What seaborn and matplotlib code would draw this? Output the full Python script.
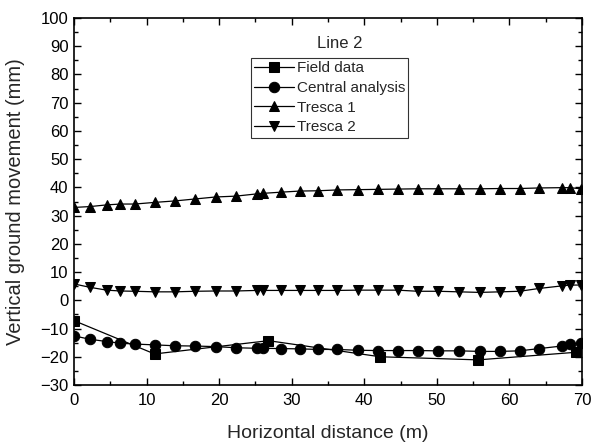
import matplotlib
matplotlib.use("Agg")
import matplotlib.pyplot as plt
from matplotlib.ticker import MultipleLocator
import seaborn as sns
import pandas as pd

# ---- data ----
field_x = [0, 11.1, 26.8, 42.2, 55.7, 69.2]
field_y = [-7.2, -19.0, -14.3, -20.0, -21.1, -18.4]

model_x = [0, 2.2, 4.5, 6.4, 8.4, 11.2, 13.9, 16.7, 19.5, 22.3, 25.2, 26.1, 28.5,
           31.1, 33.6, 36.3, 39.1, 41.9, 44.6, 47.4, 50.2, 53.1, 55.9, 58.7, 61.4,
           64.1, 67.2, 68.4, 69.8]
central_y = [-12.6, -13.8, -14.6, -15.2, -15.5, -15.8, -16.1, -16.2, -16.4, -16.8,
             -17.0, -17.0, -17.1, -17.2, -17.4, -17.4, -17.7, -17.8, -17.8, -17.8,
             -17.9, -17.9, -18.1, -18.1, -17.9, -17.1, -16.2, -15.5, -15.2]
tresca1_y = [32.9, 33.2, 33.8, 34.1, 34.1, 34.7, 35.2, 35.9, 36.6, 36.9, 37.7, 37.9,
             38.3, 38.7, 38.8, 39.1, 39.2, 39.3, 39.4, 39.5, 39.5, 39.5, 39.5, 39.6,
             39.6, 39.8, 39.9, 39.9, 39.5]
tresca2_y = [5.8, 4.6, 3.6, 3.3, 3.2, 3.0, 3.0, 3.2, 3.3, 3.3, 3.5, 3.5, 3.5, 3.5,
             3.5, 3.5, 3.6, 3.6, 3.6, 3.2, 3.2, 3.0, 2.8, 3.0, 3.2, 4.2, 5.1, 5.4, 5.4]

series_names = ["Field data", "Central analysis", "Tresca 1", "Tresca 2"]
x_ticks = [0, 10, 20, 30, 40, 50, 60, 70]
y_ticks = [-30, -20, -10, 0, 10, 20, 30, 40, 50, 60, 70, 80, 90, 100]

sns.set_style("ticks")
plt.rcParams["font.family"] = ["Liberation Sans", "DejaVu Sans"]

fig = plt.figure(figsize=(5.99, 4.45), dpi=100)
ax = fig.add_axes([74/599, 1-385/445, (582-74)/599, (385-18)/445])

sets = [
    (field_x, field_y, "s"),
    (model_x, central_y, "o"),
    (model_x, tresca1_y, "^"),
    (model_x, tresca2_y, "v"),
]
for (xs, ys, m), name in zip(sets, series_names):
    df = pd.DataFrame({"x": xs, "y": ys})
    sns.lineplot(data=df, x="x", y="y", marker=m, color="black", markersize=7.5,
                 markeredgecolor="black", linewidth=0.9, label=name, ax=ax,
                 sort=False, estimator=None)

ax.set_xlim(0, 70)
ax.set_ylim(-30, 100)
ax.set_xticks(x_ticks)
ax.set_yticks(y_ticks)
ax.xaxis.set_minor_locator(MultipleLocator(5))
ax.yaxis.set_minor_locator(MultipleLocator(5))
ax.tick_params(which="both", direction="in", top=True, right=True, color="black",
               width=1)
ax.tick_params(which="major", length=5, labelsize=12, labelcolor="black")
ax.tick_params(axis="x", which="major", pad=6)
ax.tick_params(axis="y", which="major", pad=4)
ax.tick_params(which="minor", length=3)
ax.tick_params(axis="x", labeltop=False)
ax.tick_params(axis="y", labelright=False)
for s in ax.spines.values():
    s.set_color("black")
    s.set_linewidth(1.2)

ax.set_xlabel("Horizontal distance (m)", fontsize=14, labelpad=12)
ax.set_ylabel("Vertical ground movement (mm)", fontsize=14.5, labelpad=11)

leg = ax.legend(loc="upper left", bbox_to_anchor=((251-74)/508, 1-(58-18)/367),
                fontsize=11, frameon=True, fancybox=False, edgecolor="black",
                borderpad=0.2, labelspacing=0.38, handlelength=2.6,
                handletextpad=0.2, borderaxespad=0)
leg.get_frame().set_linewidth(0.8)

ax.text((340-74)/508, 1-(43-18)/367, "Line 2", transform=ax.transAxes,
        ha="center", va="center", fontsize=12)

fig.savefig("out.png", dpi=100)
